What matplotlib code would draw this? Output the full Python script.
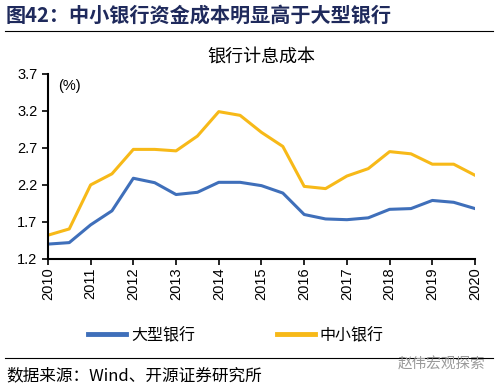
import numpy as np
import matplotlib.pyplot as plt
from matplotlib.lines import Line2D

plt.rcParams['font.family'] = ['Liberation Sans', 'Noto Sans CJK SC', 'DejaVu Sans']

# 半年度数据 2010 - 2020
periods = np.arange(2010, 2020.01, 0.5)
large_banks = [1.40, 1.42, 1.66, 1.85, 2.29, 2.23, 2.07, 2.10, 2.235, 2.235,
               2.19, 2.09, 1.80, 1.74, 1.73, 1.755, 1.87, 1.88, 1.99, 1.965, 1.88]
small_banks = [1.52, 1.605, 2.20, 2.35, 2.68, 2.68, 2.66, 2.86, 3.19, 3.14,
               2.91, 2.72, 2.18, 2.15, 2.32, 2.42, 2.65, 2.62, 2.48, 2.48, 2.33]
year_labels = [str(y) for y in range(2010, 2021)]
y_ticks = [1.2, 1.7, 2.2, 2.7, 3.2, 3.7]

blue = '#3F6FBA'
yellow = '#F7B918'
navy = '#1F2A5C'

fig = plt.figure(figsize=(4.99, 3.87), dpi=100)

# 标题栏
fig.text(0.012, 0.96, '图42：中小银行资金成本明显高于大型银行', fontsize=14.5,
         fontweight='bold', color=navy, va='center', ha='left',
         family=['Noto Sans CJK SC'])
fig.add_artist(Line2D([0.01, 0.988], [0.92, 0.92], color='black', lw=0.8))

ax = fig.add_axes([0.096, 0.331, 0.856, 0.478])
ax.plot(periods, large_banks, color=blue, lw=2.2, label='大型银行')
ax.plot(periods, small_banks, color=yellow, lw=2.2, label='中小银行')

ax.set_xlim(2010, 2020)
ax.set_ylim(1.2, 3.7)
ax.set_yticks(y_ticks)
ax.set_yticklabels([f'{v:.1f}' for v in y_ticks], fontsize=10.5)
ax.set_xticks(range(2010, 2021))
ax.set_xticklabels(year_labels, rotation=90, fontsize=10.5)
for s in ['top', 'right']:
    ax.spines[s].set_visible(False)
for s in ['left', 'bottom']:
    ax.spines[s].set_linewidth(1.5)
ax.tick_params(axis='both', direction='out', length=4, width=1.2)
ax.tick_params(axis='x', pad=2)
ax.set_title('银行计息成本', fontsize=13, family=['Noto Sans CJK SC'], pad=8)
ax.text(0.023, 0.935, '(%)', transform=ax.transAxes, fontsize=10.5, va='center')

leg = ax.legend(loc='upper center', bbox_to_anchor=(0.44, -0.29), ncol=2,
                frameon=False, handlelength=2.4, columnspacing=5.1,
                handletextpad=0.3,
                prop={'family': ['Noto Sans CJK SC'], 'size': 11.5})
for ln in leg.get_lines():
    ln.set_linewidth(3.5)

# 底部来源
fig.add_artist(Line2D([0.01, 0.988], [0.075, 0.075], color='black', lw=0.8))
fig.text(0.012, 0.03, '数据来源：Wind、开源证券研究所', fontsize=12,
         va='center', ha='left', family=['Noto Sans CJK SC'])
fig.text(0.972, 0.057, '赵伟宏观探索', fontsize=10.5, color='#9a9a9a',
         va='center', ha='right', family=['Noto Sans CJK SC'])

fig.savefig('out.png', dpi=100)
